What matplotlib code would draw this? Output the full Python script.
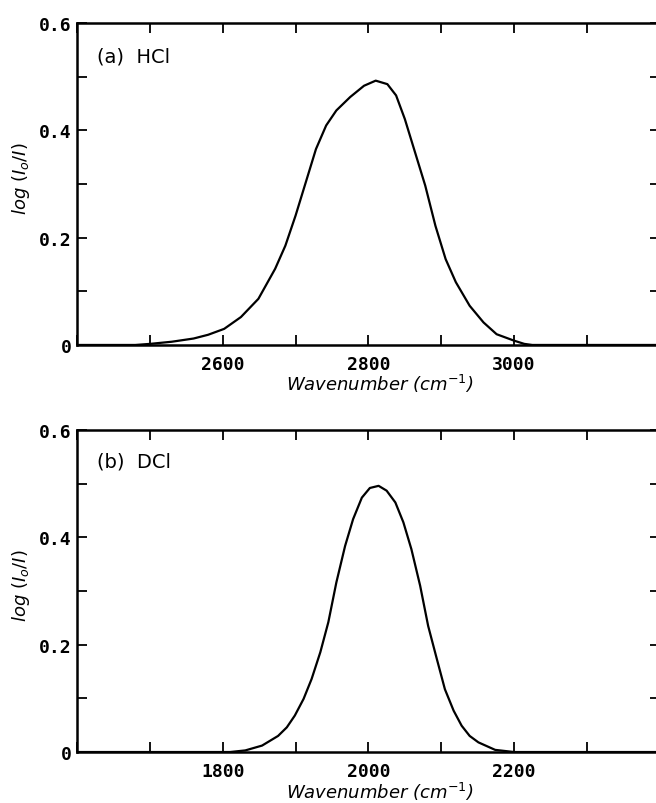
import numpy as np
import matplotlib
matplotlib.use('Agg')
import matplotlib.pyplot as plt
from matplotlib.ticker import MultipleLocator, FuncFormatter

# HCl band (top panel)
hcl_wn = [2400, 2480, 2500, 2530, 2560, 2580, 2602, 2625, 2649, 2672, 2686, 2700,
          2714, 2728, 2742, 2756, 2775, 2794, 2810, 2826, 2838, 2850, 2864, 2878,
          2892, 2906, 2920, 2939, 2958, 2976, 3000, 3014, 3025, 3200]
hcl_abs = [0.0, 0.0, 0.002, 0.006, 0.012, 0.019, 0.030, 0.052, 0.086, 0.142, 0.185, 0.241,
           0.303, 0.365, 0.409, 0.437, 0.462, 0.483, 0.4925, 0.486, 0.465, 0.421, 0.359, 0.297,
           0.222, 0.160, 0.117, 0.073, 0.042, 0.020, 0.008, 0.002, 0.0, 0.0]

# DCl band (bottom panel)
dcl_wn = [1600, 1810, 1831, 1854, 1876, 1888, 1899, 1911, 1922, 1934, 1945, 1956,
          1968, 1979, 1991, 2002, 2014, 2025, 2037, 2048, 2059, 2071, 2082, 2094,
          2105, 2117, 2128, 2139, 2151, 2174, 2200, 2400]
dcl_abs = [0.0, 0.0, 0.003, 0.012, 0.030, 0.046, 0.068, 0.099, 0.136, 0.186, 0.242, 0.316,
           0.384, 0.434, 0.474, 0.492, 0.496, 0.487, 0.465, 0.428, 0.378, 0.310, 0.235, 0.173,
           0.117, 0.077, 0.049, 0.030, 0.018, 0.004, 0.0, 0.0]

panels = [
    ("(a)  HCl", hcl_wn, hcl_abs, (2400, 3200), 0.5697, 0.897, -0.118),
    ("(b)  DCl", dcl_wn, dcl_abs, (1600, 2400), 0.0634, 0.904, -0.122),
]

fig = plt.figure(figsize=(6.56, 8.04), dpi=100)

for name, wn, ab, xlim, bottom, name_y, xlab_y in panels:
    ax = fig.add_axes([0.1174, bottom, 0.8884, 0.4005])
    ax.plot(wn, ab, color='black', linewidth=1.6, solid_joinstyle='round')
    ax.set_xlim(*xlim)
    ax.set_ylim(0, 0.6)

    ax.xaxis.set_major_locator(MultipleLocator(200))
    ax.xaxis.set_minor_locator(MultipleLocator(100))
    ax.yaxis.set_major_locator(MultipleLocator(0.2))
    ax.yaxis.set_minor_locator(MultipleLocator(0.1))
    ax.yaxis.set_major_formatter(FuncFormatter(lambda v, p: '0' if abs(v) < 1e-9 else f'{v:.1f}'))
    ax.xaxis.set_major_formatter(FuncFormatter(
        lambda v, p, lo=xlim[0], hi=xlim[1]: '' if v <= lo or v >= hi else f'{v:.0f}'))

    ax.tick_params(which='both', direction='in', top=True, right=True, width=1.3, length=7)
    ax.tick_params(axis='x', pad=7)
    ax.tick_params(axis='y', pad=4)
    for lab in ax.get_xticklabels() + ax.get_yticklabels():
        lab.set_fontfamily('DejaVu Sans Mono')
        lab.set_fontweight('bold')
        lab.set_fontsize(13)

    for sp in ax.spines.values():
        sp.set_linewidth(1.8)

    ax.text(0.034, name_y, name, transform=ax.transAxes, fontsize=14,
            ha='left', va='center', family='DejaVu Sans')
    ax.text(0.52, xlab_y, r'Wavenumber (cm$^{-1}$)', transform=ax.transAxes,
            fontsize=13, style='italic', ha='center', va='center')
    ax.text(-0.096, 0.52, r'$log\ (I_o/I)$', transform=ax.transAxes,
            fontsize=13, rotation=90, ha='center', va='center')

fig.savefig('out.png', dpi=100)
